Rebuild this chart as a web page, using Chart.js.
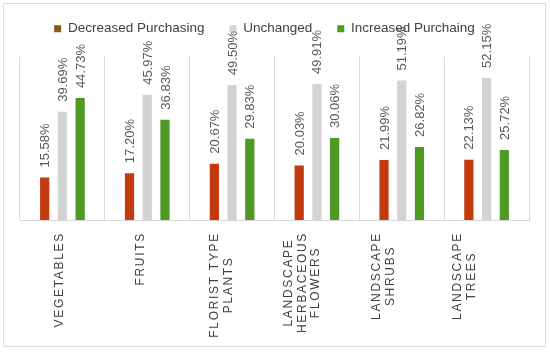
<!DOCTYPE html>
<html>
<head>
<meta charset="utf-8">
<script src="https://cdn.jsdelivr.net/npm/chart.js@4/dist/chart.umd.min.js"></script>
<style>
  body { margin: 0; background: #fff; }
  #wrap { position: relative; width: 550px; height: 352px; }
  #frame {
    position: absolute; left: 3px; top: 3px; width: 543px; height: 344px;
    border: 1px solid #dcdcdc; box-sizing: border-box;
  }
</style>
</head>
<body>
<div id="wrap">
  <div id="frame"></div>
  <canvas id="chart"></canvas>
</div>
<script>
"use strict";

// Chart data
const categories = [
  ["VEGETABLES"],
  ["FRUITS"],
  ["FLORIST TYPE", "PLANTS"],
  ["LANDSCAPE", "HERBACEOUS", "FLOWERS"],
  ["LANDSCAPE", "SHRUBS"],
  ["LANDSCAPE", "TREES"]
];
const decreased = [15.58, 17.2, 20.67, 20.03, 21.99, 22.13];
const unchanged = [39.69, 45.97, 49.5, 49.91, 51.19, 52.15];
const increased = [44.73, 36.83, 29.83, 30.06, 26.82, 25.72];

const FONT = "'Liberation Sans', Arial, sans-serif";

// Legend: a bit of extra room below it, and nudged left
const legendTweaks = {
  id: "legendTweaks",
  beforeInit(chart) {
    const legend = chart.legend;
    const fit = legend.fit;
    legend.fit = function () {
      fit.call(this);
      this.height += 11;
    };
    const draw = legend.draw;
    legend.draw = function () {
      this.ctx.save();
      this.ctx.translate(-10, 0);
      draw.call(this);
      this.ctx.restore();
    };
  }
};

// Rotated percentage labels above each bar
const valueLabels = {
  id: "valueLabels",
  afterDatasetsDraw(chart) {
    const ctx = chart.ctx;
    ctx.save();
    ctx.font = "13px " + FONT;
    ctx.fillStyle = "#595959";
    ctx.textAlign = "left";
    ctx.textBaseline = "middle";
    chart.data.datasets.forEach((ds, di) => {
      chart.getDatasetMeta(di).data.forEach((bar, i) => {
        ctx.save();
        ctx.translate(bar.x + 1, bar.y - 10);
        ctx.rotate(-Math.PI / 2);
        ctx.fillText(ds.data[i].toFixed(2) + "%", 0, 0);
        ctx.restore();
      });
    });
    ctx.restore();
  }
};

// Category names, rotated and letter-spaced
const categoryLabels = {
  id: "categoryLabels",
  afterDraw(chart) {
    const ctx = chart.ctx;
    const xScale = chart.scales.x;
    const top = chart.chartArea.bottom + 12;
    ctx.save();
    ctx.font = "12px " + FONT;
    ctx.letterSpacing = "1.7px";
    ctx.fillStyle = "#404040";
    ctx.textAlign = "center";
    ctx.textBaseline = "middle";
    categories.forEach((lines, i) => {
      const x = xScale.getPixelForValue(i) - 3 - i * 3.8;
      const maxW = Math.max(...lines.map((l) => ctx.measureText(l).width));
      ctx.save();
      ctx.translate(x, top);
      ctx.rotate(-Math.PI / 2);
      lines.forEach((line, j) => {
        ctx.fillText(line, -maxW / 2, (j - (lines.length - 1) / 2) * 13.5);
      });
      ctx.restore();
    });
    ctx.restore();
  }
};

const renderChart = () => {
  const ctx = document.getElementById("chart").getContext("2d");
  new Chart(ctx, {
    type: "bar",
    data: {
      labels: categories,
      datasets: [
        { label: "Decreased Purchasing", data: decreased, backgroundColor: "#c23a0e" },
        { label: "Unchanged", data: unchanged, backgroundColor: "#d3d3d3" },
        { label: "Increased Purchaing", data: increased, backgroundColor: "#4f9a25" }
      ]
    },
    options: {
      responsive: true,
      maintainAspectRatio: false,
      animation: false,
      datasets: {
        bar: { categoryPercentage: 0.627, barPercentage: 0.52 }
      },
      layout: { padding: { top: -3, left: 20, right: 21, bottom: 132 } },
      plugins: {
        tooltip: { enabled: false },
        legend: {
          position: "top",
          labels: {
            boxWidth: 7,
            boxHeight: 7,
            padding: 25,
            color: "#404040",
            font: { family: FONT, size: 13.5 },
            generateLabels(chart) {
              const swatches = ["#8b5a12", "#d3d3d3", "#4f9a25"];
              return chart.data.datasets.map((ds, i) => ({
                text: ds.label,
                fillStyle: swatches[i],
                strokeStyle: swatches[i],
                lineWidth: 0,
                datasetIndex: i,
                fontColor: "#404040"
              }));
            }
          }
        }
      },
      scales: {
        x: {
          grid: { color: "#d9d9d9", drawTicks: false, offset: true },
          border: { color: "#d9d9d9" },
          ticks: { display: false }
        },
        y: {
          display: false,
          min: 0,
          max: 60
        }
      }
    },
    plugins: [legendTweaks, valueLabels, categoryLabels]
  });
};

document.addEventListener("DOMContentLoaded", renderChart);
</script>
</body>
</html>
